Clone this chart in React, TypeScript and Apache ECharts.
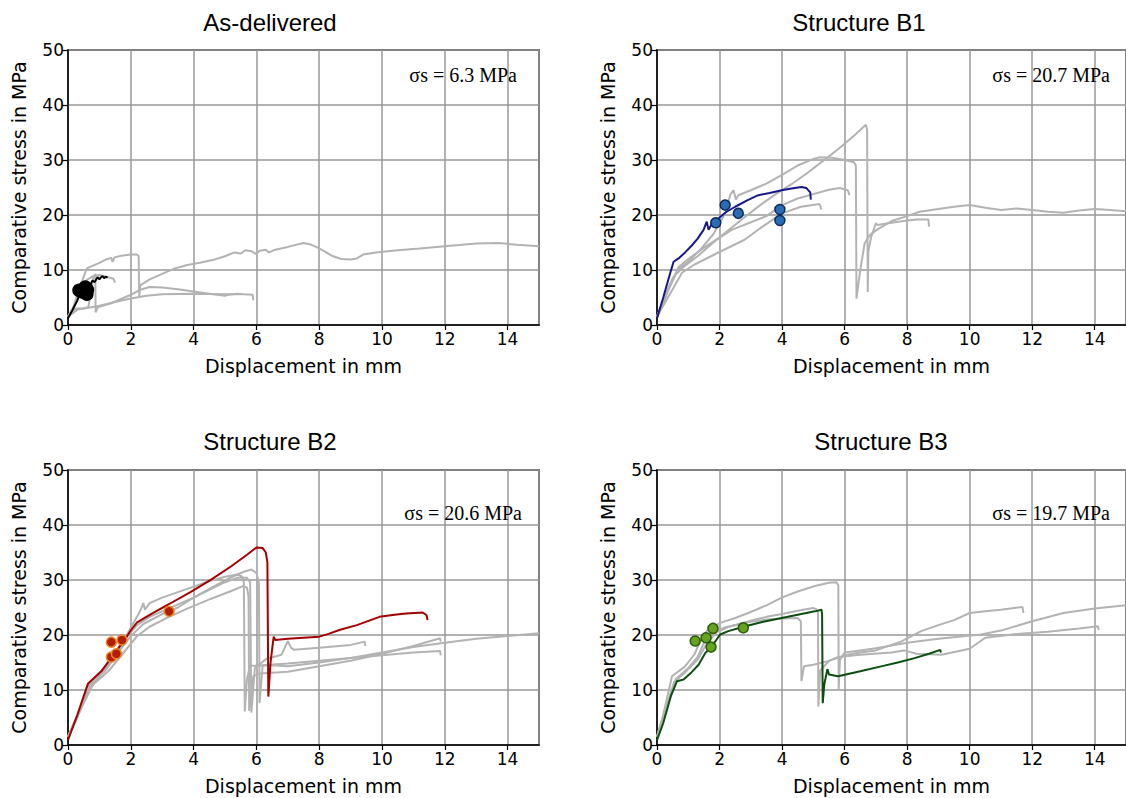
import React, { useEffect, useRef } from "react";
import * as echarts from "echarts";

// ---------- axis ticks ----------
const X_MIN = 0, X_MAX = 15, X_STEP = 2;
const Y_MIN = 0, Y_MAX = 50, Y_STEP = 10;

// ---------- titles & annotations ----------
const PANEL_TITLES = ["As-delivered", "Structure B1", "Structure B2", "Structure B3"];
const SIGMA_TEXTS = ["σs = 6.3 MPa", "σs = 20.7 MPa", "σs = 20.6 MPa", "σs = 19.7 MPa"];

// ---------- As-delivered ----------
const AD_gray1 = [[0,1.5],[0.15,3],[0.3,5.5],[0.45,8],[0.6,10.3],[0.8,10.8],[1.0,11.3],[1.2,11.9],[1.38,12.2],[1.42,11.5],[1.48,12.3],[1.7,12.6],[2.0,12.8],[2.2,12.8],[2.25,12.5],[2.27,5.2],[2.3,7.2],[2.6,8.3],[3.0,9.3],[3.4,10.3],[3.6,10.6],[3.8,10.9],[4.2,11.3],[4.6,11.8],[5.0,12.5],[5.3,13.2],[5.5,13.0],[5.65,13.6],[5.85,13.4],[6.0,12.9],[6.1,13.5],[6.3,13.7],[6.4,13.2],[6.6,13.7],[7.0,14.2],[7.5,14.9],[7.7,14.7],[7.9,14.2],[8.1,13.6],[8.4,12.6],[8.7,12.0],[9.0,11.9],[9.2,12.1],[9.4,12.8],[9.8,13.2],[10.5,13.6],[11.2,13.9],[12,14.3],[13,14.8],[13.7,14.9],[14.3,14.6],[15,14.3]];
const AD_gray2 = [[0,1.5],[0.2,3.5],[0.4,6.5],[0.6,8.2],[0.8,8.9],[1.0,9.1],[1.2,8.8],[1.45,8.4],[1.5,7.7]];
const AD_gray3 = [[0,1.5],[0.25,3],[0.5,3],[0.65,3.3],[0.7,5],[0.8,8.5],[0.87,9.3],[0.88,2.3],[0.95,3.2],[1.4,4.0],[2.0,5.5],[2.3,6.4],[2.6,6.9],[3.0,6.8],[3.5,6.5],[4.0,6.1],[4.5,5.7],[5.0,5.3],[5.1,5.5],[5.4,5.7],[5.6,5.6],[5.88,5.5],[5.9,4.5]];
const AD_gray4 = [[0,1.5],[0.3,2.8],[0.7,3.2],[1.0,3.5],[1.5,4.2],[2.0,4.8],[2.5,5.3],[3.0,5.6],[4.0,5.7],[5.0,5.6],[5.5,5.6]];
const AD_main = [[0,1.2],[0.15,2.8],[0.3,4.5],[0.4,6.0],[0.5,6.5],[0.6,6.6],[0.7,7.2],[0.78,8.1],[0.85,7.8],[0.94,8.7],[1.0,8.3],[1.04,8.6],[1.1,8.9],[1.15,8.5],[1.2,8.8],[1.26,8.6]];
const AD_points = [[0.35,6.3],[0.55,6.9],[0.6,5.6],[0.45,6.0],[0.62,6.4]];

// ---------- Structure B1 ----------
const B1_gray1 = [[0,1.5],[0.2,4],[0.4,7],[0.6,9.2],[0.9,10.8],[1.3,12.5],[1.8,15],[2.3,17.3],[2.8,19.6],[3.3,21.8],[3.8,23.8],[4.3,25.6],[4.8,27.6],[5.3,29.8],[5.8,32],[6.3,34.4],[6.68,36.4],[6.72,35.5],[6.74,6.0],[6.76,13.4],[6.85,16],[7.0,18.5],[7.05,18.2],[7.5,18.6],[8.0,19.0],[8.3,19.2],[8.68,19.2],[8.7,17.9]];
const B1_gray2 = [[0,1.5],[0.2,4.5],[0.5,8.5],[0.7,10.2],[1.0,11.5],[1.4,13.8],[1.8,16.5],[2.2,20.5],[2.35,23.8],[2.45,24.5],[2.52,22.8],[2.6,23.6],[3.0,24.5],[3.5,25.7],[4.0,27.3],[4.5,29.0],[5.0,30.2],[5.2,30.5],[5.6,30.4],[6.0,30.0],[6.3,29.6],[6.36,29.0],[6.38,4.8],[6.5,10],[6.64,14.8],[6.8,16.3],[7.0,17.2],[7.5,18.9],[8.0,19.8],[8.4,20.6],[9.0,21.1],[9.5,21.5],[10.0,21.8],[10.5,21.3],[11.0,20.9],[11.5,21.2],[12.0,20.9],[12.5,20.6],[13.0,20.4],[13.5,20.8],[14.0,21.1],[14.5,20.9],[15.0,20.7]];
const B1_gray3 = [[0,1.5],[0.3,5.5],[0.69,10.5],[1.0,12],[1.54,14.2],[2.39,17.3],[2.92,18.5],[3.5,19.8],[4.0,21.8],[4.5,23],[5.0,23.8],[5.5,24.6],[5.85,24.9],[6.1,24.5],[6.16,23.6]];
const B1_gray4 = [[0,1.5],[0.3,4.5],[0.6,7.5],[0.8,9.5],[1.2,11],[1.9,13],[2.8,15.5],[3.3,17.6],[4.0,20.3],[4.6,21.5],[5.2,22],[5.26,21.0]];
const B1_main = [[0,1.2],[0.2,5],[0.4,9],[0.53,11.5],[0.69,12.1],[0.9,13.2],[1.12,14.5],[1.3,15.7],[1.49,17.3],[1.59,18.8],[1.65,17.3],[1.75,18.4],[1.91,19.1],[2.2,20.5],[2.5,21.5],[2.9,22.7],[3.24,23.6],[3.6,24.0],[3.99,24.5],[4.3,24.8],[4.62,25.1],[4.78,24.9],[4.9,24.1],[4.92,22.8]];
const B1_points = [[2.18,21.8],[1.88,18.6],[2.6,20.3],[3.93,21.0],[3.93,19.0]];

// ---------- Structure B2 ----------
const B2_gray1 = [[0,1.5],[0.3,5.5],[0.6,10.5],[1.0,13],[1.4,16],[1.8,19.3],[2.1,22.3],[2.3,24.4],[2.4,25.8],[2.45,24.6],[2.6,25.8],[3.0,26.8],[3.5,27.8],[4.0,28.8],[4.5,29.8],[5.0,30.6],[5.4,31],[5.55,30.6],[5.6,29.5],[5.63,6.1],[5.7,12],[5.8,14.4],[6.5,14.5],[7,14.3],[8,15],[9,15.8],[10,16.8],[11,17.8],[12,18.6],[13,19.3],[14,19.8],[15,20.3]];
const B2_gray2 = [[0,1.5],[0.3,5],[0.6,9.5],[1.0,12.5],[1.5,16.3],[1.9,19.8],[2.2,21.8],[2.6,23.3],[3.2,24.8],[4.0,26.8],[4.6,28.7],[5.2,30.5],[5.6,31.5],[5.84,31.9],[6.0,31.3],[6.08,29.5],[6.1,7.6],[6.2,14.5],[7,14.8],[8,15.3],[9,15.8],[10,16.3],[11,16.8],[11.85,17.1],[11.87,16.3]];
const B2_gray3 = [[0,1.5],[0.4,6.5],[0.7,10.8],[1.2,13.6],[1.7,17.6],[2.0,19.8],[2.4,22],[3.0,23.8],[3.5,25],[4.0,26.8],[4.5,28.2],[5.0,29.6],[5.4,30.4],[5.7,30.4],[5.8,29.6],[5.84,5.9],[5.95,14],[6.3,15.6],[6.8,16.4],[7.0,18.9],[7.1,17.7],[7.2,17.3],[8,17.7],[9,18.2],[9.45,18.8],[9.47,18.0]];
const B2_gray4 = [[0,1.5],[0.4,6.5],[0.8,11],[1.3,13.5],[1.8,17],[2.2,19.8],[2.6,21.5],[3.18,23.2],[3.8,24.8],[4.56,26.6],[5.2,28],[5.57,28.9],[5.7,28.6],[5.75,27],[5.77,6.2],[5.9,12.5],[6.1,13],[7,13.3],[8,14.3],[9,15.3],[10,16.6],[11,18],[11.85,19.4],[11.87,18.8]];
const B2_main = [[0,0.9],[0.3,5.5],[0.64,11.2],[1.06,13.4],[1.4,16],[1.8,19.1],[2.02,21],[2.2,22.3],[2.44,23.1],[2.8,24.3],[3.18,25.5],[3.9,27.8],[4.57,30.1],[5.2,32.5],[5.7,34.6],[6.0,35.9],[6.2,35.8],[6.3,35],[6.35,33.2],[6.38,8.8],[6.45,15],[6.55,19.7],[6.6,19.1],[7.0,19.3],[7.5,19.5],[8.0,19.7],[8.3,20.2],[8.64,20.9],[9.2,21.8],[9.92,23.3],[10.4,23.7],[10.77,23.9],[11.3,24.1],[11.42,23.6],[11.45,22.7]];
const B2_points = [[1.38,18.7],[1.72,19.1],[1.38,16.0],[1.54,16.6],[3.22,24.3]];

// ---------- Structure B3 ----------
const B3_gray1 = [[0,1.5],[0.2,5.5],[0.48,12.5],[0.9,14.3],[1.2,16.5],[1.43,19.5],[1.6,20.8],[2.02,22.2],[2.5,23.1],[2.92,24],[3.5,25.4],[3.99,26.8],[4.5,27.9],[5.05,28.9],[5.5,29.5],[5.74,29.6],[5.8,29],[5.81,10],[5.85,15.5],[6.0,16.8],[6.5,17.2],[7,17.6],[8,18.6],[9,19.3],[10.36,20.1],[11,20.8],[12,22.5],[13,24],[14,24.8],[15,25.4]];
const B3_gray2 = [[0,1.5],[0.25,6],[0.55,11.5],[0.9,13.2],[1.3,15.5],[1.6,18.5],[1.9,20.5],[2.3,21.5],[3,22.6],[3.5,23.3],[4,23.8],[4.5,24.4],[4.99,24.9],[5.1,24.7],[5.15,24],[5.16,7],[5.22,13.5],[5.5,15.3],[5.8,16],[6.5,16.4],[7.5,16.8],[7.9,17.2],[8.3,16.6],[9.1,16.4],[10,17.5],[10.5,19.5],[11.5,20.2],[12.5,20.6],[13.5,21.2],[14.1,21.6],[14.13,20.9]];
const B3_gray3 = [[0,1.5],[0.3,7],[0.6,12],[1.0,14],[1.3,16],[1.6,19.8],[1.8,20.6],[2.2,21.4],[3,22.4],[3.5,22.8],[4,23],[4.5,23.1],[4.6,22.5],[4.62,11.6],[4.7,14.3],[5,14.6],[5.5,15.3],[6,16.3],[6.5,16.8],[7,17.2],[7.8,18.8],[8.45,20.7],[9,21.8],[9.5,22.7],[10,24],[10.5,24.3],[11,24.6],[11.69,25.1],[11.72,24]];
const B3_main = [[0,0.9],[0.2,4],[0.45,9],[0.64,11.6],[0.85,11.9],[1.1,13.2],[1.33,14.6],[1.54,16.7],[1.75,17.9],[2.02,20.1],[2.28,20.7],[2.82,21.6],[3.4,22.4],[3.99,23.1],[4.5,23.7],[5.05,24.3],[5.26,24.6],[5.28,23.8],[5.3,7.6],[5.35,11],[5.45,13.8],[5.5,12.8],[5.79,12.5],[6.5,13.4],[7.17,14.3],[7.7,15],[8.24,15.8],[8.7,16.6],[9.06,17.3],[9.08,16.8]];
const B3_points = [[1.22,18.9],[1.57,19.5],[1.79,21.2],[1.73,17.8],[2.76,21.3]];

const PANEL_GRAYS = [
  [AD_gray1, AD_gray2, AD_gray3, AD_gray4],
  [B1_gray1, B1_gray2, B1_gray3, B1_gray4],
  [B2_gray1, B2_gray2, B2_gray3, B2_gray4],
  [B3_gray1, B3_gray2, B3_gray3],
];
const PANEL_MAIN = [AD_main, B1_main, B2_main, B3_main];
const PANEL_POINTS = [AD_points, B1_points, B2_points, B3_points];

// ---------- styles ----------
const GRAY = "#b3b3b3";
const MAIN_COLORS = ["#000000", "#18188c", "#a30000", "#0c4d10"];
const POINT_FILL = ["#000000", "#2b6cb5", "#b31d00", "#66a320"];
const POINT_BORDER = ["#000000", "#0c2c5c", "#e88a25", "#2e5c0c"];
const POINT_SIZE = [12, 10, 10, 10];

const GRIDS = [
  { left: 68, top: 50 },
  { left: 657, top: 50 },
  { left: 68, top: 470 },
  { left: 657, top: 470 },
];
const GRID_W = 471, GRID_H = 275;
const TITLE_POS = [[270, 22], [859, 22], [270, 441], [881, 441]];
const SIGMA_POS = [[517, 75], [1110, 75], [522, 513], [1110, 513]];

const SANS = "DejaVu Sans";

export default function App() {
  const ref = useRef<HTMLDivElement>(null);
  useEffect(() => {
    if (!ref.current) return;
    const chart = echarts.init(ref.current, undefined, { renderer: "svg" });

    const grid = GRIDS.map((g) => ({
      left: g.left, top: g.top, width: GRID_W, height: GRID_H,
      show: true, borderColor: "#000", borderWidth: 1.5, backgroundColor: "transparent",
      containLabel: false,
    }));

    const xAxis = GRIDS.map((_, i) => ({
      type: "value", gridIndex: i, min: X_MIN, max: X_MAX, interval: X_STEP,
      name: "Displacement in mm", nameLocation: "middle", nameGap: 31,
      nameTextStyle: { fontFamily: SANS, fontSize: 19, color: "#000" },
      axisLine: { show: true, onZero: false, lineStyle: { color: "#000", width: 1.5 } },
      axisTick: { show: true, inside: false, length: 5, lineStyle: { color: "#000", width: 1.2 } },
      axisLabel: { show: true, margin: 5, fontFamily: SANS, fontSize: 17, color: "#000", showMaxLabel: false },
      splitLine: { show: true, lineStyle: { color: "#999999", width: 1.5 } },
    }));

    const yAxis = GRIDS.map((_, i) => ({
      type: "value", gridIndex: i, min: Y_MIN, max: Y_MAX, interval: Y_STEP,
      name: "Comparative stress in MPa", nameLocation: "middle", nameGap: 40,
      nameTextStyle: { fontFamily: SANS, fontSize: 19, color: "#000" },
      axisLine: { show: true, onZero: false, lineStyle: { color: "#000", width: 1.5 } },
      axisTick: { show: true, inside: false, length: 6, lineStyle: { color: "#000", width: 1.2 } },
      axisLabel: { show: true, margin: 4, fontFamily: SANS, fontSize: 17, color: "#000" },
      splitLine: { show: true, lineStyle: { color: "#999999", width: 1.5 } },
    }));

    const series: any[] = [];
    PANEL_GRAYS.forEach((curves, i) => {
      curves.forEach((data, k) => {
        series.push({
          type: "line", name: `gray-${i}-${k}`, xAxisIndex: i, yAxisIndex: i,
          data, showSymbol: false, symbol: "none", silent: true, z: 2,
          lineStyle: { color: GRAY, width: 2 },
        });
      });
    });
    PANEL_MAIN.forEach((data, i) => {
      series.push({
        type: "line", name: `main-${i}`, xAxisIndex: i, yAxisIndex: i,
        data, showSymbol: false, symbol: "none", silent: true, z: 3,
        lineStyle: { color: MAIN_COLORS[i], width: 2 },
      });
    });
    PANEL_POINTS.forEach((data, i) => {
      series.push({
        type: "scatter", name: `pts-${i}`, xAxisIndex: i, yAxisIndex: i,
        data, symbol: "circle", symbolSize: POINT_SIZE[i], silent: true, z: 4,
        itemStyle: { color: POINT_FILL[i], borderColor: POINT_BORDER[i], borderWidth: 1.5, opacity: 1 },
      });
    });

    const graphic: any[] = [];
    PANEL_TITLES.forEach((t, i) => {
      graphic.push({
        type: "text", x: TITLE_POS[i][0], y: TITLE_POS[i][1], z: 10,
        style: {
          text: t, font: '24px "Liberation Sans"', fill: "#000",
          align: "center", verticalAlign: "middle", textAlign: "center", textVerticalAlign: "middle",
        },
      });
    });
    SIGMA_TEXTS.forEach((t, i) => {
      graphic.push({
        type: "text", x: SIGMA_POS[i][0], y: SIGMA_POS[i][1], z: 10,
        style: {
          text: t, font: '20px "Liberation Serif"', fill: "#000",
          align: "right", verticalAlign: "middle", textAlign: "right", textVerticalAlign: "middle",
        },
      });
    });

    chart.setOption({
      animation: false,
      backgroundColor: "#ffffff",
      grid, xAxis, yAxis, series, graphic,
    });
    return () => chart.dispose();
  }, []);

  return (
    <div
      ref={ref}
      style={{ position: "absolute", left: 0, top: 0, width: 1126, height: 798 }}
    />
  );
}
